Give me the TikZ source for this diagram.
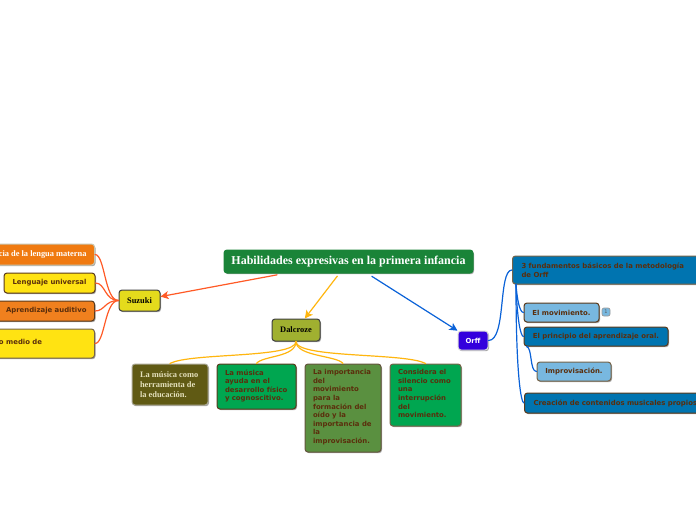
\documentclass[tikz,border=0pt]{standalone}
\usepackage{fontspec}
\setmainfont{Liberation Serif}
\newfontfamily\vsans{DejaVu Sans}
\usetikzlibrary{arrows.meta,shadows,calc}
\definecolor{txtbrown}{HTML}{5A2E0C}
\definecolor{rootgreen}{HTML}{1A8438}
\definecolor{lineorange}{HTML}{FF5A26}
\definecolor{lineyellow}{HTML}{FFB60F}
\definecolor{lineblue}{HTML}{0A62D8}
\definecolor{orangeA}{HTML}{F07A10}
\definecolor{orangeB}{HTML}{F0801E}
\definecolor{yellowA}{HTML}{FFE312}
\definecolor{suzukiY}{HTML}{E4DB1C}
\definecolor{dalcG}{HTML}{A0B030}
\definecolor{oliveA}{HTML}{605A14}
\definecolor{oliveT}{HTML}{E4E0BC}
\definecolor{greenA}{HTML}{00A650}
\definecolor{greenB}{HTML}{5A9040}
\definecolor{violetA}{HTML}{3300DD}
\definecolor{blueA}{HTML}{0074B0}
\definecolor{blueB}{HTML}{78B8E0}
\definecolor{edgeA}{HTML}{5A3A1C}
\definecolor{edgeB}{HTML}{766448}
\definecolor{edgeC}{HTML}{C8C6B0}
\tikzset{
  box/.style={rectangle,rounded corners=3pt,line width=1pt,inner sep=0pt,
    drop shadow={shadow xshift=1pt,shadow yshift=-1.2pt,opacity=.35,fill=black}},
  sanstxt/.style={font=\vsans\bfseries\fontsize{6.9}{8.6}\selectfont,text=txtbrown,align=left},
  seriftxt/.style={font=\bfseries\fontsize{8.4}{10.2}\selectfont},
  conn/.style={line width=1.2pt,line cap=round},
  arrowconn/.style={line width=1.2pt,-{Stealth[length=8pt,width=8pt,inset=2pt]}},
}
\begin{document}
\begin{tikzpicture}[x=1pt,y=-1pt]
\useasboundingbox (0,0) rectangle (696,520);
\fill[white] (0,0) rectangle (696,520);
\begin{scope}
\clip (0,0) rectangle (696,520);
% root
\node[box,draw=rootgreen,fill=rootgreen,text=white,minimum width=249pt,minimum height=23pt,
  font=\bfseries\fontsize{12}{14}\selectfont] (root) at (348.5,261.5) {Habilidades expresivas en la primera infancia};
% main nodes
\node[box,seriftxt,draw=black!75,fill=suzukiY,text=black,minimum width=41pt,minimum height=21pt] (suzuki) at (139.5,300.5) {Suzuki};
\node[box,seriftxt,draw=black!75,fill=dalcG,text=black,minimum width=48pt,minimum height=22pt] (dalcroze) at (296,330) {Dalcroze};
\node[box,sanstxt,draw=white!85!black,fill=violetA,text=white,minimum width=30pt,minimum height=19pt] (orff) at (473,340.5) {Orff};
% left
\node[box,seriftxt,draw=edgeC,fill=orangeA,text=white,minimum width=115pt,minimum height=21pt,anchor=east] (n1) at (95,254.5) {\makebox[115pt][r]{cia de la lengua materna\hspace{8pt}}};
\node[box,sanstxt,draw=edgeA,fill=yellowA,minimum width=91pt,minimum height=20pt] (n2) at (49.5,283) {Lenguaje universal};
\node[box,sanstxt,draw=edgeA,fill=orangeB,minimum width=115pt,minimum height=20pt,anchor=east] (n3) at (95,311) {\makebox[115pt][r]{Aprendizaje auditivo\hspace{8pt}}};
\node[box,sanstxt,draw=edgeB,fill=yellowA,minimum width=115pt,minimum height=29pt,anchor=east] (n4) at (95,343.5) {\raisebox{4pt}{\makebox[115pt][l]{\hspace{19.5pt}o medio de}}};
% dalcroze children
\node[box,seriftxt,draw=edgeC!85!black,fill=oliveA,text=oliveT,minimum width=76pt,minimum height=41pt] (a) at (170,384.5) {\makebox[76pt][l]{\hspace{8pt}\begin{minipage}{66pt}\raggedright La música como\\herramienta de\\la educación.\end{minipage}}};
\node[box,sanstxt,draw=edgeA,fill=greenA,minimum width=79pt,minimum height=45pt] (b) at (256.5,386.5) {\makebox[79pt][l]{\hspace{8pt}\begin{minipage}[c][41pt][t]{70pt}\raggedright\vspace{3.5pt}La música\\ayuda en el\\desarrollo físico\\y cognoscitivo.\end{minipage}}};
\node[box,sanstxt,draw=edgeB!85!black,fill=greenB,minimum width=76pt,minimum height=88pt] (c) at (343,408) {\makebox[76pt][l]{\hspace{8pt}\begin{minipage}[c][84pt][t]{67pt}\raggedright\vspace{3.5pt}La importancia\\del\\movimiento\\para la\\formación del\\oído y la\\importancia de\\la\\improvisación.\end{minipage}}};
\node[box,sanstxt,draw=edgeB,fill=greenA,minimum width=71pt,minimum height=62pt] (d) at (425.5,395) {\makebox[71pt][l]{\hspace{8pt}\begin{minipage}[c][58pt][t]{62pt}\raggedright\vspace{3.5pt}Considera el\\silencio como\\una\\interrupción\\del\\movimiento.\end{minipage}}};
% right
\node[box,sanstxt,draw=edgeB,fill=blueA,minimum width=194pt,minimum height=28pt,anchor=west] (r1) at (512,270) {\makebox[194pt][l]{\hspace{9pt}\begin{minipage}{180pt}\raggedright 3 fundamentos básicos de la metodología\\de Orff\end{minipage}}};
\node[box,sanstxt,draw=edgeA,fill=blueB,minimum width=75pt,minimum height=19pt] (r2) at (561.5,312.5) {El movimiento.};
\node[rectangle,rounded corners=2pt,draw=black!40,fill=blueB,line width=.7pt,inner sep=0pt,minimum width=8pt,minimum height=8pt,text=black!65,font=\vsans\fontsize{5}{6}\selectfont] (badge) at (606,312) {1};
\node[box,sanstxt,draw=edgeA,fill=blueA,minimum width=144pt,minimum height=19pt] (r3) at (596,336.5) {El principio del aprendizaje oral.};
\node[box,sanstxt,draw=edgeB,fill=blueB,minimum width=74pt,minimum height=19pt] (r4) at (574,371.5) {Improvisación.};
\node[box,sanstxt,draw=edgeA,fill=blueA,minimum width=190pt,minimum height=20pt,anchor=west] (r5) at (524,403) {\makebox[190pt][l]{\hspace{9pt}Creación de contenidos musicales propios}};
% arrows from root
\draw[arrowconn,lineorange,shorten <=7pt] (root) -- (suzuki);
\draw[arrowconn,lineyellow,shorten <=3pt] (root) -- (dalcroze);
\draw[arrowconn,lineblue,shorten <=5pt] (root) -- (orff);
% suzuki links
\draw[conn,lineorange] (suzuki.west) .. controls +(-14,0) and ($(n1.east)+(10,0)$) .. (n1.east);
\draw[conn,lineorange] (suzuki.west) .. controls +(-14,0) and ($(n2.east)+(10,0)$) .. (n2.east);
\draw[conn,lineorange] (suzuki.west) .. controls +(-14,0) and ($(n3.east)+(10,0)$) .. (n3.east);
\draw[conn,lineorange] (suzuki.west) .. controls +(-14,0) and ($(n4.east)+(10,0)$) .. (n4.east);
% dalcroze links
\draw[conn,lineyellow] (dalcroze.south) .. controls +(0,17) and +(20,-11) .. (a.north);
\draw[conn,lineyellow] (dalcroze.south) .. controls +(0,16) and +(6,-8) .. (b.north);
\draw[conn,lineyellow] (dalcroze.south) .. controls +(0,15) and +(-6,-8) .. (c.north);
\draw[conn,lineyellow] (dalcroze.south) .. controls +(0,17) and +(-20,-11) .. (d.north);
% orff links
\coordinate (r1foot) at ($(r1.south west)+(4,0)$);
\coordinate (r3foot) at ($(r3.south west)+(3,0)$);
\draw[conn,lineblue] (orff.east) .. controls +(18,0) and +(-14,0) .. (r1.west);
\draw[conn,lineblue] (r1foot) .. controls +(1,14) and +(-4,0) .. (r2.west);
\draw[conn,lineblue] (r1foot) .. controls +(1,34) and +(-3,0) .. (r3.west);
\draw[conn,lineblue] (r1foot) .. controls +(0,90) and +(-3,0) .. (r5.west);
\draw[conn,lineblue] (r3foot) .. controls +(6,1) and +(-7,0) .. (r4.west);
\end{scope}
\end{tikzpicture}
\end{document}
